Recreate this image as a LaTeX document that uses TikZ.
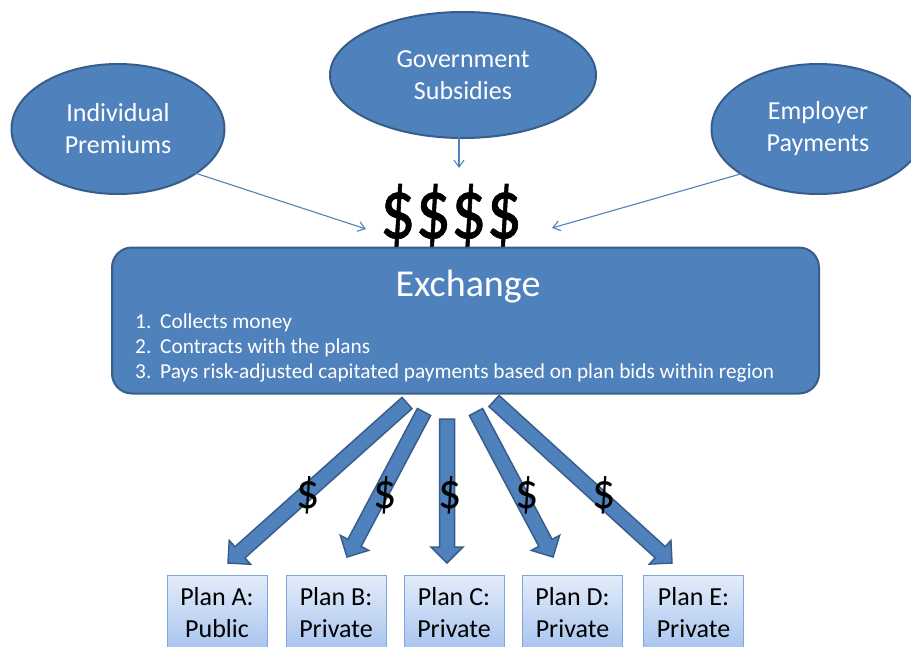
\documentclass[tikz,border=0pt]{standalone}
\usepackage{fontspec}
\setmainfont{Carlito}
\newfontfamily\moneyfont[FakeBold=0.8]{Carlito}
\usetikzlibrary{calc,arrows.meta,shapes.geometric}
\definecolor{bfill}{HTML}{4F81BD}
\definecolor{bline}{HTML}{385D8A}
\definecolor{ptop}{HTML}{E3ECFA}
\definecolor{pbot}{HTML}{A3C1ED}
\definecolor{pline}{HTML}{7FA6DC}
\newcommand{\fsz}[2]{\fontsize{#1}{#2}\selectfont}
\newcommand{\blockarr}[3]{% tail, tip, name
  \coordinate (#3h) at ($(#2)!16pt!(#1)$);
  \draw[blockarrow] ($(#1)!7.5pt!90:(#2)$) -- ($(#3h)!7.5pt!90:(#2)$) -- ($(#3h)!16pt!90:(#2)$) -- (#2)
    -- ($(#3h)!16pt!-90:(#2)$) -- ($(#3h)!7.5pt!-90:(#2)$) -- ($(#1)!7.5pt!-90:(#2)$) -- cycle;}
\tikzset{
  bubble/.style={ellipse, draw=bline, line width=2pt, fill=bfill, text=white, inner sep=0pt, align=center, font=\fsz{26}{32}},
  thinarrow/.style={draw=bfill, line width=1.1pt, -{Straight Barb[length=7pt,width=10pt]}},
  blockarrow/.style={fill=bfill, draw=bline, line width=1.5pt, line join=miter},
  planbox/.style={draw=pline, line width=1pt, top color=ptop, bottom color=pbot, minimum width=100pt, minimum height=80pt, anchor=north, inner sep=0pt},
  plantext/.style={anchor=base, font=\fsz{26}{32}, text=black},
  dollar/.style={font=\fsz{46}{56}, text=black},
  listitem/.style={anchor=base west, font=\fsz{21.3}{25}, text=white, inner sep=0pt}
}
\begin{document}
\begin{tikzpicture}[x=1pt,y=-1pt]
\useasboundingbox (0,0) rectangle (911,646);
\clip (0,0) rectangle (911,646);
% bubbles
\node[bubble, minimum width=213pt, minimum height=130pt] (ind) at (118,129) {Individual\\Premiums};
\node[bubble, minimum width=266pt, minimum height=126pt] (gov) at (463,75) {Government\\Subsidies};
\node[bubble, minimum width=213pt, minimum height=130pt] (emp) at (818,129) {Employer\\Payments};
% money
\node[text=black, anchor=base, inner sep=0pt] (money) at (451,238) {\scalebox{1}[1.22]{\moneyfont\fsz{70}{80}\$\$\$\$}};
% thin arrows
\coordinate (indA) at (195,173);
\coordinate (indB) at (366,229);
\coordinate (govA) at (459,137);
\coordinate (govB) at (459,168);
\coordinate (empA) at (744,173);
\coordinate (empB) at (552,228);
\draw[thinarrow] (indA) -- (indB);
\draw[thinarrow] (govA) -- (govB);
\draw[thinarrow] (empA) -- (empB);
% exchange box
\node[draw=bline, line width=2pt, fill=bfill, rounded corners=20pt, minimum width=707pt, minimum height=146pt, inner sep=0pt] (exch) at (465.5,320.5) {};
\node[anchor=base, font=\fsz{38}{44}, text=white, inner sep=0pt] (exchtitle) at (468,296) {Exchange};
\node[listitem] (n1) at (135,328) {1.};
\node[listitem] (n2) at (135,353) {2.};
\node[listitem] (n3) at (135,378) {3.};
\node[listitem] (l1) at (160,328) {Collects money};
\node[listitem] (l2) at (160,353) {Contracts with the plans};
\node[listitem] (l3) at (160,378) {Pays risk-adjusted capitated payments based on plan bids within region};
% block arrows
\coordinate (aT) at (407,403); \coordinate (aH) at (228,563);
\coordinate (bT) at (424,412); \coordinate (bH) at (347,557);
\coordinate (cT) at (447,419); \coordinate (cH) at (447,563);
\coordinate (dT) at (476,412); \coordinate (dH) at (553,557);
\coordinate (eT) at (494,401); \coordinate (eH) at (672,563);
\blockarr{aT}{aH}{ha}
\blockarr{bT}{bH}{hb}
\blockarr{cT}{cH}{hc}
\blockarr{dT}{dH}{hd}
\blockarr{eT}{eH}{he}
% dollar labels
\node[dollar] (da) at (308,495) {\scalebox{1}[1.1]{\$}};
\node[dollar] (db) at (385,495) {\scalebox{1}[1.1]{\$}};
\node[dollar] (dc) at (450,495) {\scalebox{1}[1.1]{\$}};
\node[dollar] (dd) at (527,495) {\scalebox{1}[1.1]{\$}};
\node[dollar] (de) at (604,495) {\scalebox{1}[1.1]{\$}};
% plan boxes
\node[planbox] (pa) at (217,575) {};
\node[planbox] (pb) at (336,575) {};
\node[planbox] (pc) at (454,575) {};
\node[planbox] (pd) at (572.5,575) {};
\node[planbox] (pe) at (693.5,575) {};
\node[plantext] (pa1) at (217,605) {Plan A:};
\node[plantext] (pa2) at (217,637) {Public};
\node[plantext] (pb1) at (336,605) {Plan B:};
\node[plantext] (pb2) at (336,637) {Private};
\node[plantext] (pc1) at (454,605) {Plan C:};
\node[plantext] (pc2) at (454,637) {Private};
\node[plantext] (pd1) at (572.5,605) {Plan D:};
\node[plantext] (pd2) at (572.5,637) {Private};
\node[plantext] (pe1) at (693.5,605) {Plan E:};
\node[plantext] (pe2) at (693.5,637) {Private};
\end{tikzpicture}
\end{document}
